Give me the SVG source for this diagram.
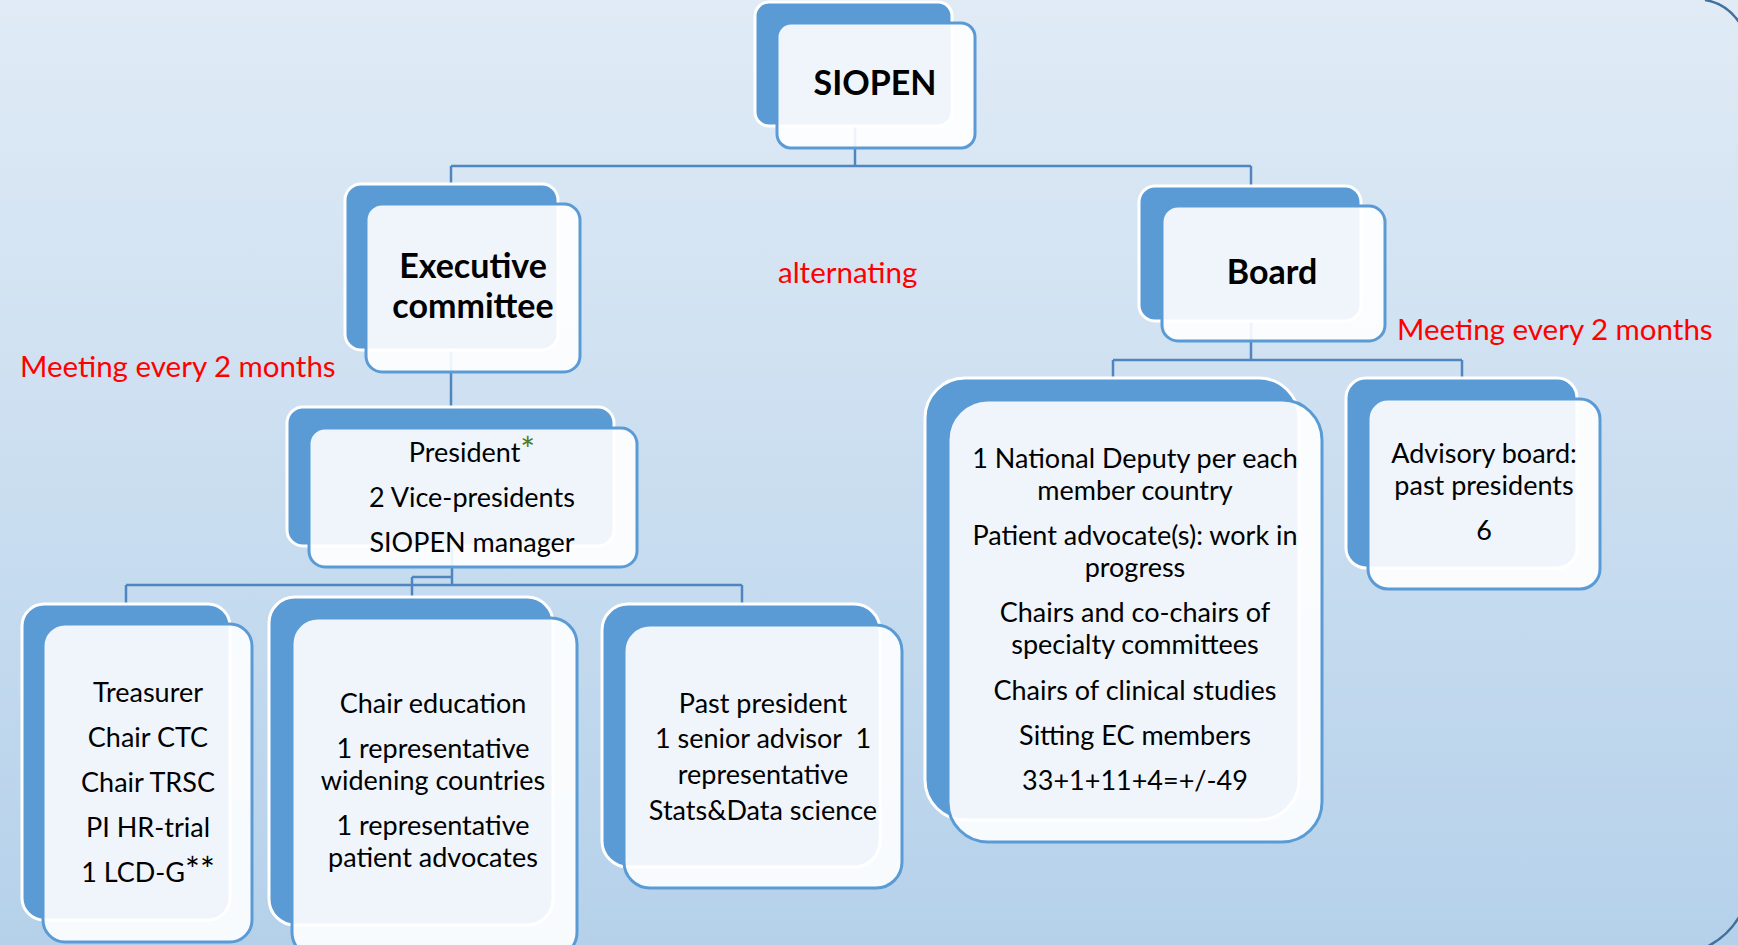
<svg xmlns="http://www.w3.org/2000/svg" width="1738" height="945" viewBox="0 0 1738 945">
<defs>
<linearGradient id="bg" x1="0" y1="0" x2="0" y2="1">
<stop offset="0" stop-color="#e0ebf6"/>
<stop offset="1" stop-color="#b5d1ea"/>
</linearGradient>
</defs>
<style>
.back{fill:#5b9bd5;stroke:#ffffff;stroke-width:3}
.front{fill:#ffffff;fill-opacity:0.9;stroke:#5b9bd5;stroke-width:3}
.conn{fill:none;stroke:#4f86c0;stroke-width:2.5}
.t{font-family:Lato,"Liberation Sans",sans-serif;font-size:27px;fill:#000000;text-anchor:middle}
.h{font-family:Lato,"Liberation Sans",sans-serif;font-size:34px;font-weight:bold;fill:#000000;text-anchor:middle}
.red{font-family:Lato,"Liberation Sans",sans-serif;font-size:29.5px;fill:#ff0000}
.ast{font-size:35px}
.edge{fill:none;stroke:#41719c;stroke-width:2.5}
</style>
<rect x="0" y="0" width="1738" height="945" fill="url(#bg)"/>
<path class="edge" d="M1705,0 C1724,3 1736,14 1745,32"/>
<path class="edge" d="M1745,905 C1737,925 1724,940 1700,950"/>

<g id="connectors">
<path class="conn" d="M855,120 V166 M451,166 H1251 M451,166 V190 M1251,166 V190"/>
<path class="conn" d="M451,330 V412"/>
<path class="conn" d="M452,540 V585 M412,577 H452 M412,577 V600 M126,585 H742 M126,585 V608 M742,585 V608"/>
<path class="conn" d="M1251,320 V360 M1113,360 H1462 M1113,360 V382 M1462,360 V382"/>
</g>

<g id="siopen">
<rect class="back" x="755" y="2" width="197" height="124" rx="14"/>
<rect class="front" x="777" y="23" width="198" height="125" rx="14"/>
<text class="h" x="875" y="95">SIOPEN</text>
</g>

<g id="executive">
<rect class="back" x="345" y="184" width="213" height="166" rx="16"/>
<rect class="front" x="366" y="204" width="214" height="168" rx="16"/>
<text class="h" x="473" y="278">Executive</text>
<text class="h" x="473" y="318">committee</text>
</g>

<g id="board">
<rect class="back" x="1139" y="186" width="222" height="135" rx="16"/>
<rect class="front" x="1162" y="206" width="223" height="135" rx="16"/>
<text class="h" x="1272" y="284">Board</text>
</g>

<g id="president">
<rect class="back" x="287" y="407" width="327" height="139" rx="16"/>
<rect class="front" x="309" y="428" width="328" height="139" rx="16"/>
<text class="t" x="472" y="462">President<tspan class="ast" fill="#4f7a28">*</tspan></text>
<text class="t" x="472" y="507">2 Vice-presidents</text>
<text class="t" x="472" y="552">SIOPEN manager</text>
</g>

<g id="treasurer">
<rect class="back" x="22" y="604" width="208" height="316" rx="22"/>
<rect class="front" x="43" y="624" width="209" height="318" rx="22"/>
<text class="t" x="148" y="702">Treasurer</text>
<text class="t" x="148" y="747">Chair CTC</text>
<text class="t" x="148" y="792">Chair TRSC</text>
<text class="t" x="148" y="837">PI HR-trial</text>
<text class="t" x="148" y="882">1 LCD-G<tspan class="ast">**</tspan></text>
</g>

<g id="education">
<rect class="back" x="269" y="597" width="284" height="328" rx="26"/>
<rect class="front" x="292" y="618" width="285" height="340" rx="26"/>
<text class="t" x="433" y="713">Chair education</text>
<text class="t" x="433" y="758">1 representative</text>
<text class="t" x="433" y="790">widening countries</text>
<text class="t" x="433" y="835">1 representative</text>
<text class="t" x="433" y="867">patient advocates</text>
</g>

<g id="pastpresident">
<rect class="back" x="602" y="604" width="278" height="263" rx="26"/>
<rect class="front" x="624" y="625" width="278" height="263" rx="26"/>
<text class="t" x="763" y="713">Past president</text>
<text class="t" x="763" y="748" xml:space="preserve">1 senior advisor  1</text>
<text class="t" x="763" y="784">representative</text>
<text class="t" x="763" y="820">Stats&amp;Data science</text>
</g>

<g id="boardmembers">
<rect class="back" x="925" y="378" width="374" height="442" rx="40"/>
<rect class="front" x="948" y="400" width="374" height="442" rx="40"/>
<text class="t" x="1135" y="468">1 National Deputy per each</text>
<text class="t" x="1135" y="500">member country</text>
<text class="t" x="1135" y="545">Patient advocate(s): work in</text>
<text class="t" x="1135" y="577">progress</text>
<text class="t" x="1135" y="622">Chairs and co-chairs of</text>
<text class="t" x="1135" y="654">specialty committees</text>
<text class="t" x="1135" y="700">Chairs of clinical studies</text>
<text class="t" x="1135" y="745">Sitting EC members</text>
<text class="t" x="1135" y="790">33+1+11+4=+/-49</text>
</g>

<g id="advisory">
<rect class="back" x="1346" y="378" width="231" height="190" rx="20"/>
<rect class="front" x="1368" y="399" width="232" height="190" rx="20"/>
<text class="t" x="1484" y="463">Advisory board:</text>
<text class="t" x="1484" y="495">past presidents</text>
<text class="t" x="1484" y="540">6</text>
</g>

<g id="labels">
<text class="red" x="20" y="377">Meeting every 2 months</text>
<text class="red" x="778" y="283">alternating</text>
<text class="red" x="1397" y="340">Meeting every 2 months</text>
</g>
</svg>
